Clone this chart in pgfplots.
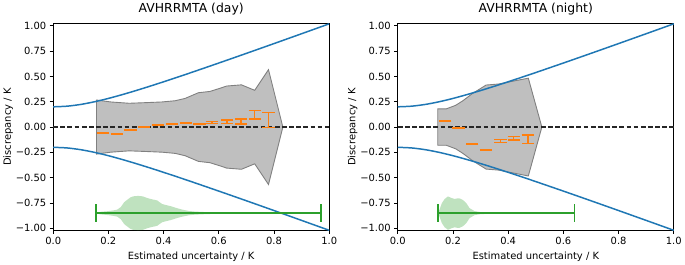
\documentclass[border=0pt]{standalone}
\usepackage{fontspec}
\setmainfont{DejaVu Sans}
\usepackage{pgfplots}
\pgfplotsset{compat=1.18}
\definecolor{tabblue}{HTML}{1F77B4}
\definecolor{taborange}{HTML}{FF7F0E}
\definecolor{tabgreen}{HTML}{2CA02C}
\pgfplotsset{
 mystyle/.style={
  width=278pt, height=208pt, scale only axis,
  xmin=0, xmax=1, ymin=-1.02, ymax=1.02,
  xtick={0,0.2,0.4,0.6,0.8,1}, xticklabels={0.0,0.2,0.4,0.6,0.8,1.0},
  ytick={-1,-0.75,-0.5,-0.25,0,0.25,0.5,0.75,1},
  yticklabels={−1.00,−0.75,−0.50,−0.25,0.00,0.25,0.50,0.75,1.00},
  tick align=outside, tick pos=left, major tick length=3.5pt,
  every tick/.style={black, line width=0.8pt},
  axis line style={line width=0.8pt},
  tick label style={font=\fontsize{10}{12}\selectfont},
  label style={font=\fontsize{10}{12}\selectfont},
  title style={font=\fontsize{12.5}{15}\selectfont, yshift=-1pt},
  xlabel={Estimated uncertainty / K}, ylabel={Discrepancy / K},
  ylabel shift=-4pt,
  orangebars/.style={draw=none, mark=none, forget plot, error bars/.cd, y dir=both, y explicit,
     error bar style={draw=taborange, line width=1.5pt},
     error mark options={draw=taborange, rotate=90, mark size=6.2pt, line width=1.5pt}},
 },
}
\begin{document}
\begin{tikzpicture}
\begin{axis}[mystyle, title={AVHRRMTA (day)}]
% gray envelope
\addplot[fill=gray!50, draw=gray, line width=0.9pt] coordinates {
(0.157,0.267)(0.209,0.248)(0.275,0.235)(0.334,0.241)(0.394,0.248)(0.442,0.26)(0.478,0.283)
(0.526,0.339)(0.568,0.352)(0.61,0.388)(0.628,0.405)(0.682,0.417)(0.73,0.363)(0.78,0.567)(0.832,0)
(0.78,-0.567)(0.73,-0.363)(0.682,-0.417)(0.628,-0.405)(0.61,-0.388)(0.568,-0.352)(0.526,-0.339)
(0.478,-0.283)(0.442,-0.26)(0.394,-0.248)(0.334,-0.241)(0.275,-0.235)(0.209,-0.248)(0.157,-0.267)} -- cycle;
% blue limits
\addplot[tabblue, line width=1.5pt, smooth] coordinates {
(0,0.2)(0.05,0.2062)(0.1,0.2236)(0.15,0.25)(0.2,0.2828)(0.25,0.3202)(0.3,0.3606)(0.35,0.4031)
(0.4,0.4472)(0.45,0.4924)(0.5,0.5385)(0.6,0.6325)(0.7,0.7280)(0.8,0.8246)(0.9,0.9220)(1.0,1.0198)};
\addplot[tabblue, line width=1.5pt, smooth] coordinates {
(0,-0.2)(0.05,-0.2062)(0.1,-0.2236)(0.15,-0.25)(0.2,-0.2828)(0.25,-0.3202)(0.3,-0.3606)(0.35,-0.4031)
(0.4,-0.4472)(0.45,-0.4924)(0.5,-0.5385)(0.6,-0.6325)(0.7,-0.7280)(0.8,-0.8246)(0.9,-0.9220)(1.0,-1.0198)};
% zero line
\addplot[black!85, line width=1.6pt, dash pattern=on 4.8pt off 2.4pt] coordinates {(0,0)(1,0)};
% orange bars
\addplot[orangebars] table[x=x, y=y, y error=e] {
x y e
0.18 -0.060 0.005
0.23 -0.068 0.004
0.28 -0.030 0.004
0.33 0.000 0.004
0.38 0.020 0.004
0.43 0.030 0.004
0.48 0.042 0.004
0.53 0.032 0.005
0.575 0.047 0.010
0.63 0.052 0.016
0.68 0.0535 0.0245
0.73 0.122 0.044
0.78 0.0705 0.0735
};
% green violin
\addplot[fill=tabgreen, fill opacity=0.3, draw=none, smooth] coordinates {
(0.155,-0.85)(0.17,-0.838)(0.2,-0.83)(0.232,-0.815)(0.245,-0.79)(0.257,-0.743)(0.27,-0.715)
(0.28,-0.694)(0.295,-0.682)(0.31,-0.68)(0.325,-0.685)(0.34,-0.70)(0.36,-0.715)(0.377,-0.725)
(0.395,-0.76)(0.424,-0.78)(0.46,-0.81)(0.496,-0.83)(0.53,-0.837)(0.6,-0.844)(0.7,-0.847)
(0.8,-0.848)(0.97,-0.85)
(0.8,-0.852)(0.7,-0.853)(0.6,-0.856)(0.53,-0.863)(0.496,-0.87)(0.46,-0.89)(0.424,-0.92)
(0.395,-0.94)(0.377,-0.975)(0.36,-0.985)(0.34,-1.00)(0.325,-1.015)(0.31,-1.02)(0.295,-1.018)
(0.28,-1.006)(0.27,-0.985)(0.257,-0.957)(0.245,-0.91)(0.232,-0.885)(0.2,-0.87)(0.17,-0.862)} -- cycle;
\addplot[tabgreen, line width=1.4pt, mark=|, mark size=8.8pt, mark options={line width=1.4pt}] coordinates {(0.155,-0.85)(0.97,-0.85)};
\end{axis}
\begin{axis}[mystyle, xshift=347pt, title={AVHRRMTA (night)}]
\addplot[fill=gray!50, draw=gray, line width=0.9pt] coordinates {
(0.145,0.18)(0.176,0.18)(0.21,0.215)(0.236,0.26)(0.27,0.33)(0.32,0.415)(0.365,0.425)(0.473,0.483)(0.522,0)
(0.473,-0.483)(0.365,-0.425)(0.32,-0.415)(0.27,-0.33)(0.236,-0.26)(0.21,-0.215)(0.176,-0.18)(0.145,-0.18)} -- cycle;
\addplot[tabblue, line width=1.5pt, smooth] coordinates {
(0,0.2)(0.05,0.2062)(0.1,0.2236)(0.15,0.25)(0.2,0.2828)(0.25,0.3202)(0.3,0.3606)(0.35,0.4031)
(0.4,0.4472)(0.45,0.4924)(0.5,0.5385)(0.6,0.6325)(0.7,0.7280)(0.8,0.8246)(0.9,0.9220)(1.0,1.0198)};
\addplot[tabblue, line width=1.5pt, smooth] coordinates {
(0,-0.2)(0.05,-0.2062)(0.1,-0.2236)(0.15,-0.25)(0.2,-0.2828)(0.25,-0.3202)(0.3,-0.3606)(0.35,-0.4031)
(0.4,-0.4472)(0.45,-0.4924)(0.5,-0.5385)(0.6,-0.6325)(0.7,-0.7280)(0.8,-0.8246)(0.9,-0.9220)(1.0,-1.0198)};
\addplot[black!85, line width=1.6pt, dash pattern=on 4.8pt off 2.4pt] coordinates {(0,0)(1,0)};
\addplot[orangebars] table[x=x, y=y, y error=e] {
x y e
0.172 0.060 0.003
0.22 -0.013 0.003
0.27 -0.170 0.003
0.32 -0.228 0.003
0.372 -0.137 0.013
0.42 -0.110 0.017
0.471 -0.120 0.040
};
\addplot[fill=tabgreen, fill opacity=0.3, draw=none] coordinates {
(0.146,-0.85)(0.152,-0.81)(0.16,-0.75)(0.17,-0.71)(0.182,-0.685)(0.194,-0.70)(0.206,-0.71)
(0.215,-0.705)(0.224,-0.705)(0.236,-0.72)(0.248,-0.75)(0.26,-0.80)(0.278,-0.83)(0.30,-0.84)
(0.35,-0.845)(0.45,-0.847)(0.64,-0.85)
(0.45,-0.853)(0.35,-0.855)(0.30,-0.86)(0.278,-0.87)(0.26,-0.90)(0.248,-0.95)(0.236,-0.98)
(0.224,-0.995)(0.215,-0.995)(0.206,-0.99)(0.194,-1.00)(0.182,-1.015)(0.17,-0.99)(0.16,-0.95)(0.152,-0.89)} -- cycle;
\addplot[tabgreen, line width=1.4pt, mark=|, mark size=8.8pt, mark options={line width=1.4pt}] coordinates {(0.146,-0.85)(0.64,-0.85)};
\end{axis}
\end{tikzpicture}
\end{document}
